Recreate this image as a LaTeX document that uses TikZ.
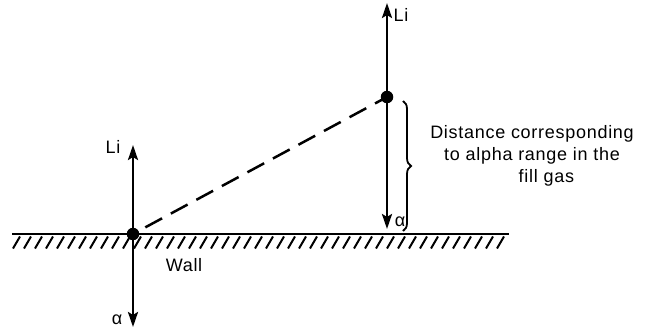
\documentclass[tikz,border=0pt]{standalone}
\usepackage{fontspec}
\setmainfont{Liberation Sans}
\usetikzlibrary{arrows.meta,decorations.pathreplacing}
\begin{document}
\begin{tikzpicture}[x=1pt,y=-1pt,
  arr/.style={line width=2.6pt,-{Stealth[length=15pt,width=10pt,inset=3pt]}},
  dotn/.style={circle,fill=black,inner sep=0pt,minimum size=12.5pt},
  lbl/.style={font=\fontsize{18}{22}\selectfont\addfontfeature{LetterSpace=4},inner sep=0pt},
  hatch/.style={line width=2pt}]
\useasboundingbox (0,0) rectangle (651,329);
% wall
\coordinate (wl) at (12,234);
\coordinate (wr) at (509,234);
\draw[line width=2.5pt] (wl) -- (wr);
\foreach \x in {20,31,...,510} {
  \draw[hatch] (\x,236.5) -- ++(-7,12);
}
\node[lbl] (wall) at (184,265) {Wall};
% left particle
\node[dotn] (d1) at (133,234) {};
\coordinate (li1) at (133,145);
\coordinate (a1) at (133,327);
\draw[arr] (d1.center) -- (li1);
\draw[arr] (d1.center) -- (a1);
\node[lbl] (Li1) at (113,147) {Li};
\node[lbl] (al1) at (117,320) {α};
% right particle
\node[dotn] (d2) at (387,97) {};
\coordinate (li2) at (387,3);
\coordinate (a2) at (387,229);
\draw[arr] (d2.center) -- (li2);
\draw[arr] (d2.center) -- (a2);
\node[lbl] (Li2) at (401,15) {Li};
\node[lbl] (al2) at (400,222) {α};
% dashed track
\draw[line width=2.5pt,dash pattern=on 19pt off 10pt,dash phase=-14pt] (d1.center) -- (d2.center);
% brace
\coordinate (b1) at (403,101);
\coordinate (b2) at (403,231);
\draw[line width=1.8pt,decorate,decoration={brace,amplitude=8pt}] (b1) -- (b2);
\node[lbl,align=center] (txt) at (532,156) {Distance corresponding\\to alpha range in the\\\hspace*{1.6em}fill gas};
\end{tikzpicture}
\end{document}
